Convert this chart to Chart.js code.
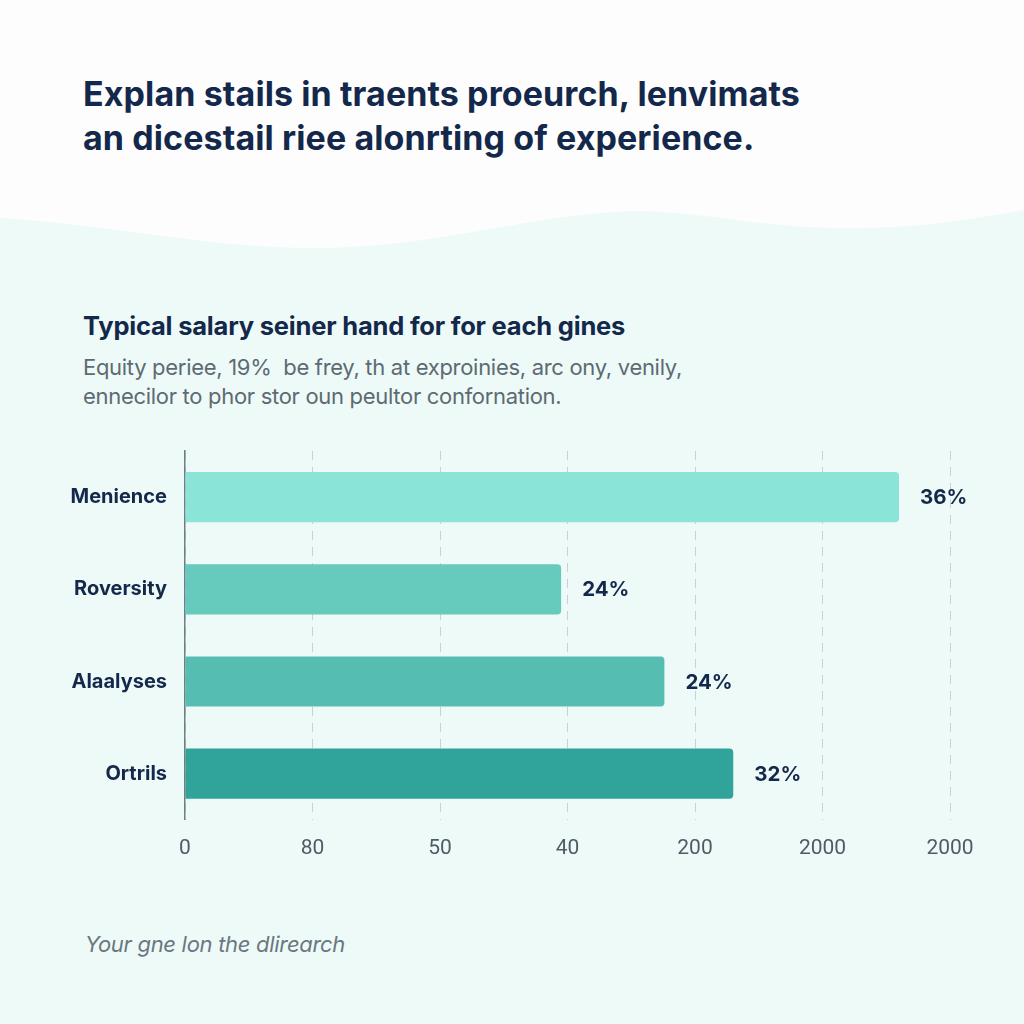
<!DOCTYPE html>
<html lang="en">
<head>
  <meta charset="UTF-8" />
  <title>Typical salary chart</title>
  <style>
    * { box-sizing: border-box; margin: 0; padding: 0; }
    html, body { width: 1024px; height: 1024px; overflow: hidden; }
    body {
      background: #eefaf8;
      font-family: 'Inter', 'Roboto', sans-serif;
      position: relative;
      color: #13284a;
    }
    .wave { position: absolute; left: 0; top: 0; width: 1024px; height: 260px; }
    h1 {
      position: absolute; left: 83px; top: 72px;
      font-size: 34px; font-weight: 700; line-height: 44px;
      color: #13284a; letter-spacing: 0.1px;
    }
    h2 {
      position: absolute; left: 83px; top: 310px;
      font-size: 25.5px; font-weight: 700; color: #13284a; letter-spacing: -0.2px;
    }
    .desc {
      position: absolute; left: 83px; top: 353px;
      font-size: 22px; line-height: 29px; color: #5d6a72; font-weight: 400;
      letter-spacing: -0.3px;
    }
    .foot {
      position: absolute; left: 85px; top: 931px;
      font-size: 22px; font-style: italic; color: #6b7780; letter-spacing: -0.3px;
    }
    #wrap { position: absolute; left: 0; top: 421px; width: 1024px; height: 472px; }
  </style>
</head>
<body>
  <svg class="wave" viewBox="0 0 1024 260" preserveAspectRatio="none">
    <path d="M0 0 H1024 V210 C960 222 900 230 830 228 C740 226 680 205 600 213 C500 222 420 250 300 248 C200 246 120 226 0 218 Z" fill="#fdfdfd"/>
  </svg>
  <h1>Explan stails in traents proeurch, lenvimats<br>an dicestail riee alonrting of experience.</h1>
  <h2>Typical salary seiner hand for for each gines</h2>
  <div class="desc">Equity periee, 19%&nbsp; be frey, th at exproinies, arc ony, venily,<br>ennecilor to phor stor oun peultor confornation.</div>
  <div id="wrap"><canvas id="chart"></canvas></div>
  <div class="foot">Your gne lon the dlirearch</div>

  <script src="https://cdn.jsdelivr.net/npm/chart.js"></script>
  <script>
const categories = ['Menience', 'Roversity', 'Alaalyses', 'Ortrils'];
const barValues = [5.6, 2.95, 3.76, 4.3];
const valueLabels = ['36%', '24%', '24%', '32%'];
const tickLabels = ['0', '80', '50', '40', '200', '2000', '2000'];

// draws the percent text just past the end of each bar
const endLabels = {
  id: 'endLabels',
  afterDatasetsDraw(chart) {
    const ctx = chart.ctx;
    const meta = chart.getDatasetMeta(0);
    ctx.save();
    ctx.font = '700 20.5px Inter, Roboto, sans-serif';
    ctx.fillStyle = '#13284a';
    ctx.textAlign = 'left';
    ctx.textBaseline = 'middle';
    meta.data.forEach((bar, i) => {
      ctx.fillText(valueLabels[i], bar.x + 21, bar.y + 1);
    });
    ctx.restore();
  }
};

new Chart(document.getElementById('chart'), {
  type: 'bar',
  data: {
    labels: categories,
    datasets: [{
      data: barValues,
      backgroundColor: ['#8ae4d7', '#66cabd', '#55bdb2', '#30a39a'],
      borderRadius: 4,
      borderSkipped: 'start',
      barPercentage: 0.545,
      categoryPercentage: 1
    }]
  },
  options: {
    indexAxis: 'y',
    responsive: true,
    maintainAspectRatio: false,
    animation: false,
    layout: { padding: { top: 12, right: 74, bottom: 16, left: 0 } },
    plugins: { legend: { display: false }, tooltip: { enabled: false } },
    scales: {
      x: {
        min: 0, max: 6,
        ticks: {
          stepSize: 1,
          padding: 16,
          color: '#4f5b66',
          font: { family: 'Roboto', size: 21 },
          callback: (v) => tickLabels[v]
        },
        grid: { color: '#c8d2d4', lineWidth: 1, drawTicks: false },
        border: { display: false, dash: [9, 7] }
      },
      y: {
        ticks: {
          padding: 18,
          color: '#13284a',
          font: { family: 'Inter', size: 20, weight: '700' }
        },
        grid: { display: false, drawTicks: false },
        border: { display: true, color: '#6f7f85', width: 1.5 },
        afterFit(scale) { scale.width = 185; }
      }
    }
  },
  plugins: [endLabels]
});
  </script>
</body>
</html>
